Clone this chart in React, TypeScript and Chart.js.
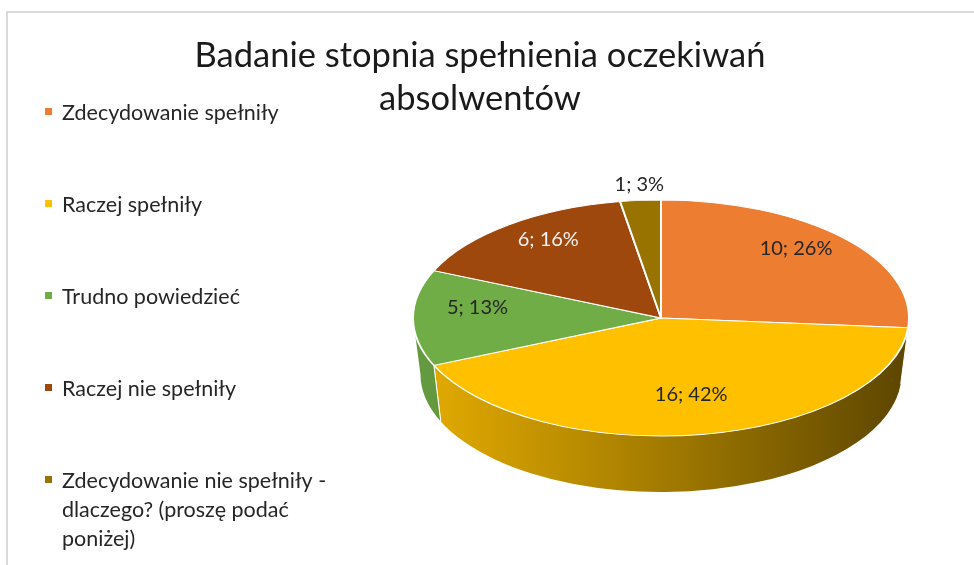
import React, { useEffect, useRef } from 'react';
import { Chart, registerables } from 'chart.js';

Chart.register(...registerables);

const titleLines = ['Badanie stopnia spełnienia oczekiwań', 'absolwentów'];
const categories = [
  'Zdecydowanie spełniły',
  'Raczej spełniły',
  'Trudno powiedzieć',
  'Raczej nie spełniły',
  'Zdecydowanie nie spełniły - dlaczego? (proszę podać poniżej)',
];
const values = [10, 16, 5, 6, 1];
const colors = ['#ED7D31', '#FFC000', '#70AD47', '#9E480E', '#997300'];
const labelColors = ['#262626', '#262626', '#262626', '#F2F2F2', '#262626'];

const FONT = 'Lato, "Open Sans", sans-serif';
const TILT = 0.476;
const DEPTH = 56;
const BOTTOM_SCALE = 0.97;

function shade(hex: string, f: number): string {
  const n = parseInt(hex.slice(1), 16);
  const r = Math.round(((n >> 16) & 255) * f);
  const g = Math.round(((n >> 8) & 255) * f);
  const b = Math.round((n & 255) * f);
  return `rgb(${r},${g},${b})`;
}

function wrap(ctx: CanvasRenderingContext2D, text: string, maxW: number): string[] {
  const words = text.split(' ');
  const lines: string[] = [];
  let cur = '';
  for (const w of words) {
    const t = cur ? cur + ' ' + w : w;
    if (ctx.measureText(t).width > maxW && cur) {
      lines.push(cur);
      cur = w;
    } else cur = t;
  }
  if (cur) lines.push(cur);
  return lines;
}

const pie3d = {
  id: 'pie3d',
  beforeDatasetsDraw(chart: any) {
    const ctx: CanvasRenderingContext2D = chart.ctx;
    const meta = chart.getDatasetMeta(0);
    const first = meta.data[0];
    const cx = first.x, cy = first.y, R = first.outerRadius;
    const ry = R * TILT;
    const R2 = R * BOTTOM_SCALE;
    ctx.save();
    meta.data.forEach((arc: any, i: number) => {
      const a1 = Math.max(arc.startAngle, 0);
      const a2 = Math.min(arc.endAngle, Math.PI);
      if (a2 <= a1) return;
      const grad = ctx.createLinearGradient(cx - R, 0, cx + R, 0);
      grad.addColorStop(0, shade(colors[i], 0.9));
      grad.addColorStop(0.5, shade(colors[i], 0.64));
      grad.addColorStop(1, shade(colors[i], 0.36));
      ctx.beginPath();
      ctx.ellipse(cx, cy, R, ry, 0, a1, a2, false);
      ctx.ellipse(cx, cy + DEPTH, R2, ry, 0, a2, a1, true);
      ctx.closePath();
      ctx.fillStyle = grad;
      ctx.fill();
      ctx.strokeStyle = '#ffffff';
      ctx.lineWidth = 1;
      [arc.startAngle, arc.endAngle].forEach((a: number) => {
        if (a > 0.01 && a < Math.PI - 0.01) {
          ctx.beginPath();
          ctx.moveTo(cx + R * Math.cos(a), cy + ry * Math.sin(a));
          ctx.lineTo(cx + R2 * Math.cos(a), cy + DEPTH + ry * Math.sin(a));
          ctx.stroke();
        }
      });
    });
    ctx.restore();
    ctx.save();
    ctx.translate(0, cy);
    ctx.scale(1, TILT);
    ctx.translate(0, -cy);
  },
  afterDatasetsDraw(chart: any) {
    const ctx: CanvasRenderingContext2D = chart.ctx;
    ctx.restore();
    const meta = chart.getDatasetMeta(0);
    const first = meta.data[0];
    const cx = first.x, cy = first.y, R = first.outerRadius;
    const ry = R * TILT;
    const total = values.reduce((a, b) => a + b, 0);
    ctx.save();
    ctx.font = `20px ${FONT}`;
    ctx.textAlign = 'center';
    ctx.textBaseline = 'middle';
    meta.data.forEach((arc: any, i: number) => {
      const mid = (arc.startAngle + arc.endAngle) / 2;
      const frac = values[i] / total;
      const text = `${values[i]}; ${Math.round(frac * 100)}%`;
      let x: number, y: number;
      if (frac >= 0.05) {
        x = cx + 0.74 * R * Math.cos(mid);
        y = cy + 0.74 * ry * Math.sin(mid) - 10;
      } else {
        x = cx + (R + 14) * Math.cos(mid);
        y = cy + (ry + 16) * Math.sin(mid);
      }
      ctx.fillStyle = labelColors[i];
      ctx.fillText(text, x, y);
    });
    ctx.restore();
  },
  afterDraw(chart: any) {
    const ctx: CanvasRenderingContext2D = chart.ctx;
    ctx.save();
    // title
    ctx.fillStyle = '#1a1a1a';
    ctx.font = `34.5px ${FONT}`;
    ctx.textAlign = 'center';
    ctx.textBaseline = 'alphabetic';
    titleLines.forEach((t, i) => ctx.fillText(t, 480, 67 + i * 43));
    // legend
    ctx.font = `21.5px ${FONT}`;
    ctx.textAlign = 'left';
    ctx.textBaseline = 'middle';
    categories.forEach((c, i) => {
      const y = 112 + i * 92;
      ctx.fillStyle = colors[i];
      ctx.fillRect(45, y - 4, 7, 7);
      ctx.fillStyle = '#262626';
      const lines = wrap(ctx, c, 280);
      lines.forEach((l, j) => ctx.fillText(l, 62, y + 1 + j * 29));
    });
    ctx.restore();
  },
};

export default function App() {
  const ref = useRef<HTMLCanvasElement>(null);
  useEffect(() => {
    if (!ref.current) return;
    const chart = new Chart(ref.current, {
      type: 'pie',
      data: {
        labels: categories,
        datasets: [
          {
            data: values,
            backgroundColor: colors,
            borderColor: '#ffffff',
            borderWidth: 2,
            clip: false,
          } as any,
        ],
      },
      options: {
        responsive: false,
        animation: false,
        events: [],
        radius: 248,
        layout: { padding: { left: 420, right: 72, top: 100, bottom: 29 } },
        plugins: {
          legend: { display: false },
          title: { display: false },
          tooltip: { enabled: false },
        },
      } as any,
      plugins: [pie3d],
    });
    return () => chart.destroy();
  }, []);
  return (
    <div style={{ position: 'fixed', left: 0, top: 0, width: 974, height: 565, background: '#fff', overflow: 'hidden' }}>
      <div
        style={{
          position: 'absolute',
          left: 6,
          top: 11,
          right: 0,
          bottom: 0,
          borderTop: '2px solid #d9d9d9',
          borderLeft: '2px solid #d9d9d9',
        }}
      />
      <canvas ref={ref} width={974} height={565} style={{ position: 'absolute', left: 0, top: 0 }} />
    </div>
  );
}
